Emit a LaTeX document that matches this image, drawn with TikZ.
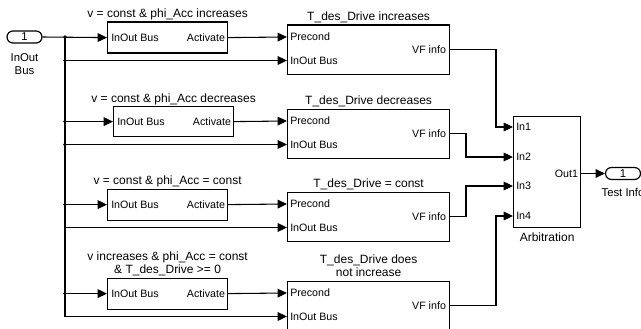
\documentclass[tikz,border=0pt]{standalone}
\usepackage{fontspec}
\setmainfont{Liberation Sans}
\usetikzlibrary{arrows.meta}
\begin{document}
\begin{tikzpicture}[x=0.75pt,y=-0.75pt,
  wire/.style={line width=0.8pt},
  arr/.style={wire,-{Triangle[length=7pt,width=6.5pt]}},
  blk/.style={draw,line width=0.9pt,inner sep=0,anchor=north west,fill=white},
  cond/.style={blk,minimum width=90pt,minimum height=23.25pt},
  tblk/.style={blk,minimum width=121.5pt,minimum height=36.75pt},
  iop/.style={draw,line width=0.9pt,rounded corners=4.5pt,minimum width=26.25pt,minimum height=9pt,inner sep=0,font=\fontsize{8.5pt}{9pt}\selectfont},
  plab/.style={inner sep=0,font=\fontsize{8pt}{9pt}\selectfont},
  bname/.style={inner sep=0,anchor=base,font=\fontsize{9pt}{10pt}\selectfont},
  pname/.style={inner sep=0,anchor=base,font=\fontsize{8.5pt}{9pt}\selectfont}
]
\useasboundingbox (0,0) rectangle (641,328);
\clip (0,0) rectangle (641,328);

% inport / outport
\node[iop] (inp) at (24.5,37) {1};
\node[pname] (inpn1) at ([yshift=-13.5pt]inp.south) {InOut};
\node[pname] (inpn2) at ([yshift=-23.25pt]inp.south) {Bus};

% condition blocks
\node[cond] (c1) at (107,21.5) {};
\node[cond,minimum height=22.5pt] (c2) at (113,106) {};
\node[cond] (c3) at (107,188.5) {};
\node[cond] (c4) at (107,277.5) {};

% T blocks
\node[tblk] (t1) at (287,24.5) {};
\node[tblk] (t2) at (287,108.5) {};
\node[tblk] (t3) at (287,191.5) {};
\node[tblk] (t4) at (287,280.5) {};

% arbitration
\node[blk,minimum width=50.25pt,minimum height=83.25pt] (arb) at (513,116) {};
\node[iop] (outp) at (623,173.5) {1};
\node[pname] (outpn) at ([yshift=-12pt]outp.south) {Test Info};
\node[bname] (arbn) at ([yshift=-10pt]arb.south) {Arbitration};

% port coordinates
\foreach \t in {t1,t2,t3,t4}{
  \path (\t.north west) ++(0,12.5) coordinate (\t-pre) ++(0,23.5) coordinate (\t-in);
  \path (\t.north east) ++(0,25) coordinate (\t-vf);
  \node[plab,anchor=west] (\t-lp) at ([xshift=2.25pt]\t-pre) {Precond};
  \node[plab,anchor=west] (\t-li) at ([xshift=2.25pt]\t-in) {InOut Bus};
  \node[plab,anchor=east] (\t-lv) at ([xshift=-3pt]\t-vf) {VF info};
}
\foreach \c in {c1,c2,c3,c4}{
  \node[plab,anchor=west] (\c-li) at ([xshift=3pt]\c.west) {InOut Bus};
  \node[plab,anchor=east] (\c-la) at ([xshift=-2.25pt]\c.east) {Activate};
}
\path (arb.north west) ++(0,11) coordinate (a1) ++(0,30) coordinate (a2) ++(0,29) coordinate (a3) ++(0,30) coordinate (a4);
\path (arb.north east) ++(0,57.5) coordinate (aout);
\foreach \i in {1,2,3,4}{
  \node[plab,anchor=west] (al\i) at ([xshift=2.25pt]a\i) {In\i};
}
\node[plab,anchor=east] (alo) at ([xshift=-2.25pt]aout) {Out1};

% block names
\node[bname] (n1) at ([yshift=3pt]c1.north) {v = const \& phi\_Acc increases};
\node[bname] (n2) at ([yshift=3pt]c2.north) {v = const \& phi\_Acc decreases};
\node[bname] (n3) at ([yshift=3pt]c3.north) {v = const \& phi\_Acc = const};
\node[bname] (n4a) at ([yshift=13.1pt]c4.north) {v increases \& phi\_Acc = const};
\node[bname] (n4b) at ([yshift=3pt]c4.north) {\& T\_des\_Drive >= 0};
\node[bname] (tn1) at ([yshift=3pt]t1.north) {T\_des\_Drive increases};
\node[bname] (tn2) at ([yshift=3pt]t2.north) {T\_des\_Drive decreases};
\node[bname] (tn3) at ([yshift=3pt]t3.north) {T\_des\_Drive = const};
\node[bname] (tn4a) at ([yshift=13.1pt]t4.north) {T\_des\_Drive does};
\node[bname] (tn4b) at ([yshift=3pt]t4.north) {not increase};

% bus wires
\coordinate (bx) at (65,0);
\draw[arr] (inp.east) -- (c1.west);
\draw[arr] (bx |- inp.east) |- (t4-in);
\draw[arr] (bx |- t1-in) -- (t1-in);
\draw[arr] (bx |- c2.west) -- (c2.west);
\draw[arr] (bx |- t2-in) -- (t2-in);
\draw[arr] (bx |- c3.west) -- (c3.west);
\draw[arr] (bx |- t3-in) -- (t3-in);
\draw[arr] (bx |- c4.west) -- (c4.west);
\foreach \p in {inp.east,t1-in,c2.west,t2-in,c3.west,c4.west}{
  \fill (bx |- \p) circle (1.4pt);
}

% activate -> precond
\draw[arr] (c1.east) -- (t1-pre);
\draw[arr] (c2.east) -- (t2-pre);
\draw[arr] (c3.east) -- (t3-pre);
\draw[arr] (c4.east) -- (t4-pre);

% VF info -> arbitration
\coordinate (k1) at (496,0);
\coordinate (k2) at (466,0);
\draw[arr] (t1-vf) -| (k1 |- a1) -- (a1);
\draw[arr] (t2-vf) -| (k2 |- a2) -- (a2);
\draw[arr] (t3-vf) -| (k2 |- a3) -- (a3);
\draw[arr] (t4-vf) -| (k1 |- a4) -- (a4);

\draw[arr] (aout) -- (outp.west);
\end{tikzpicture}
\end{document}
